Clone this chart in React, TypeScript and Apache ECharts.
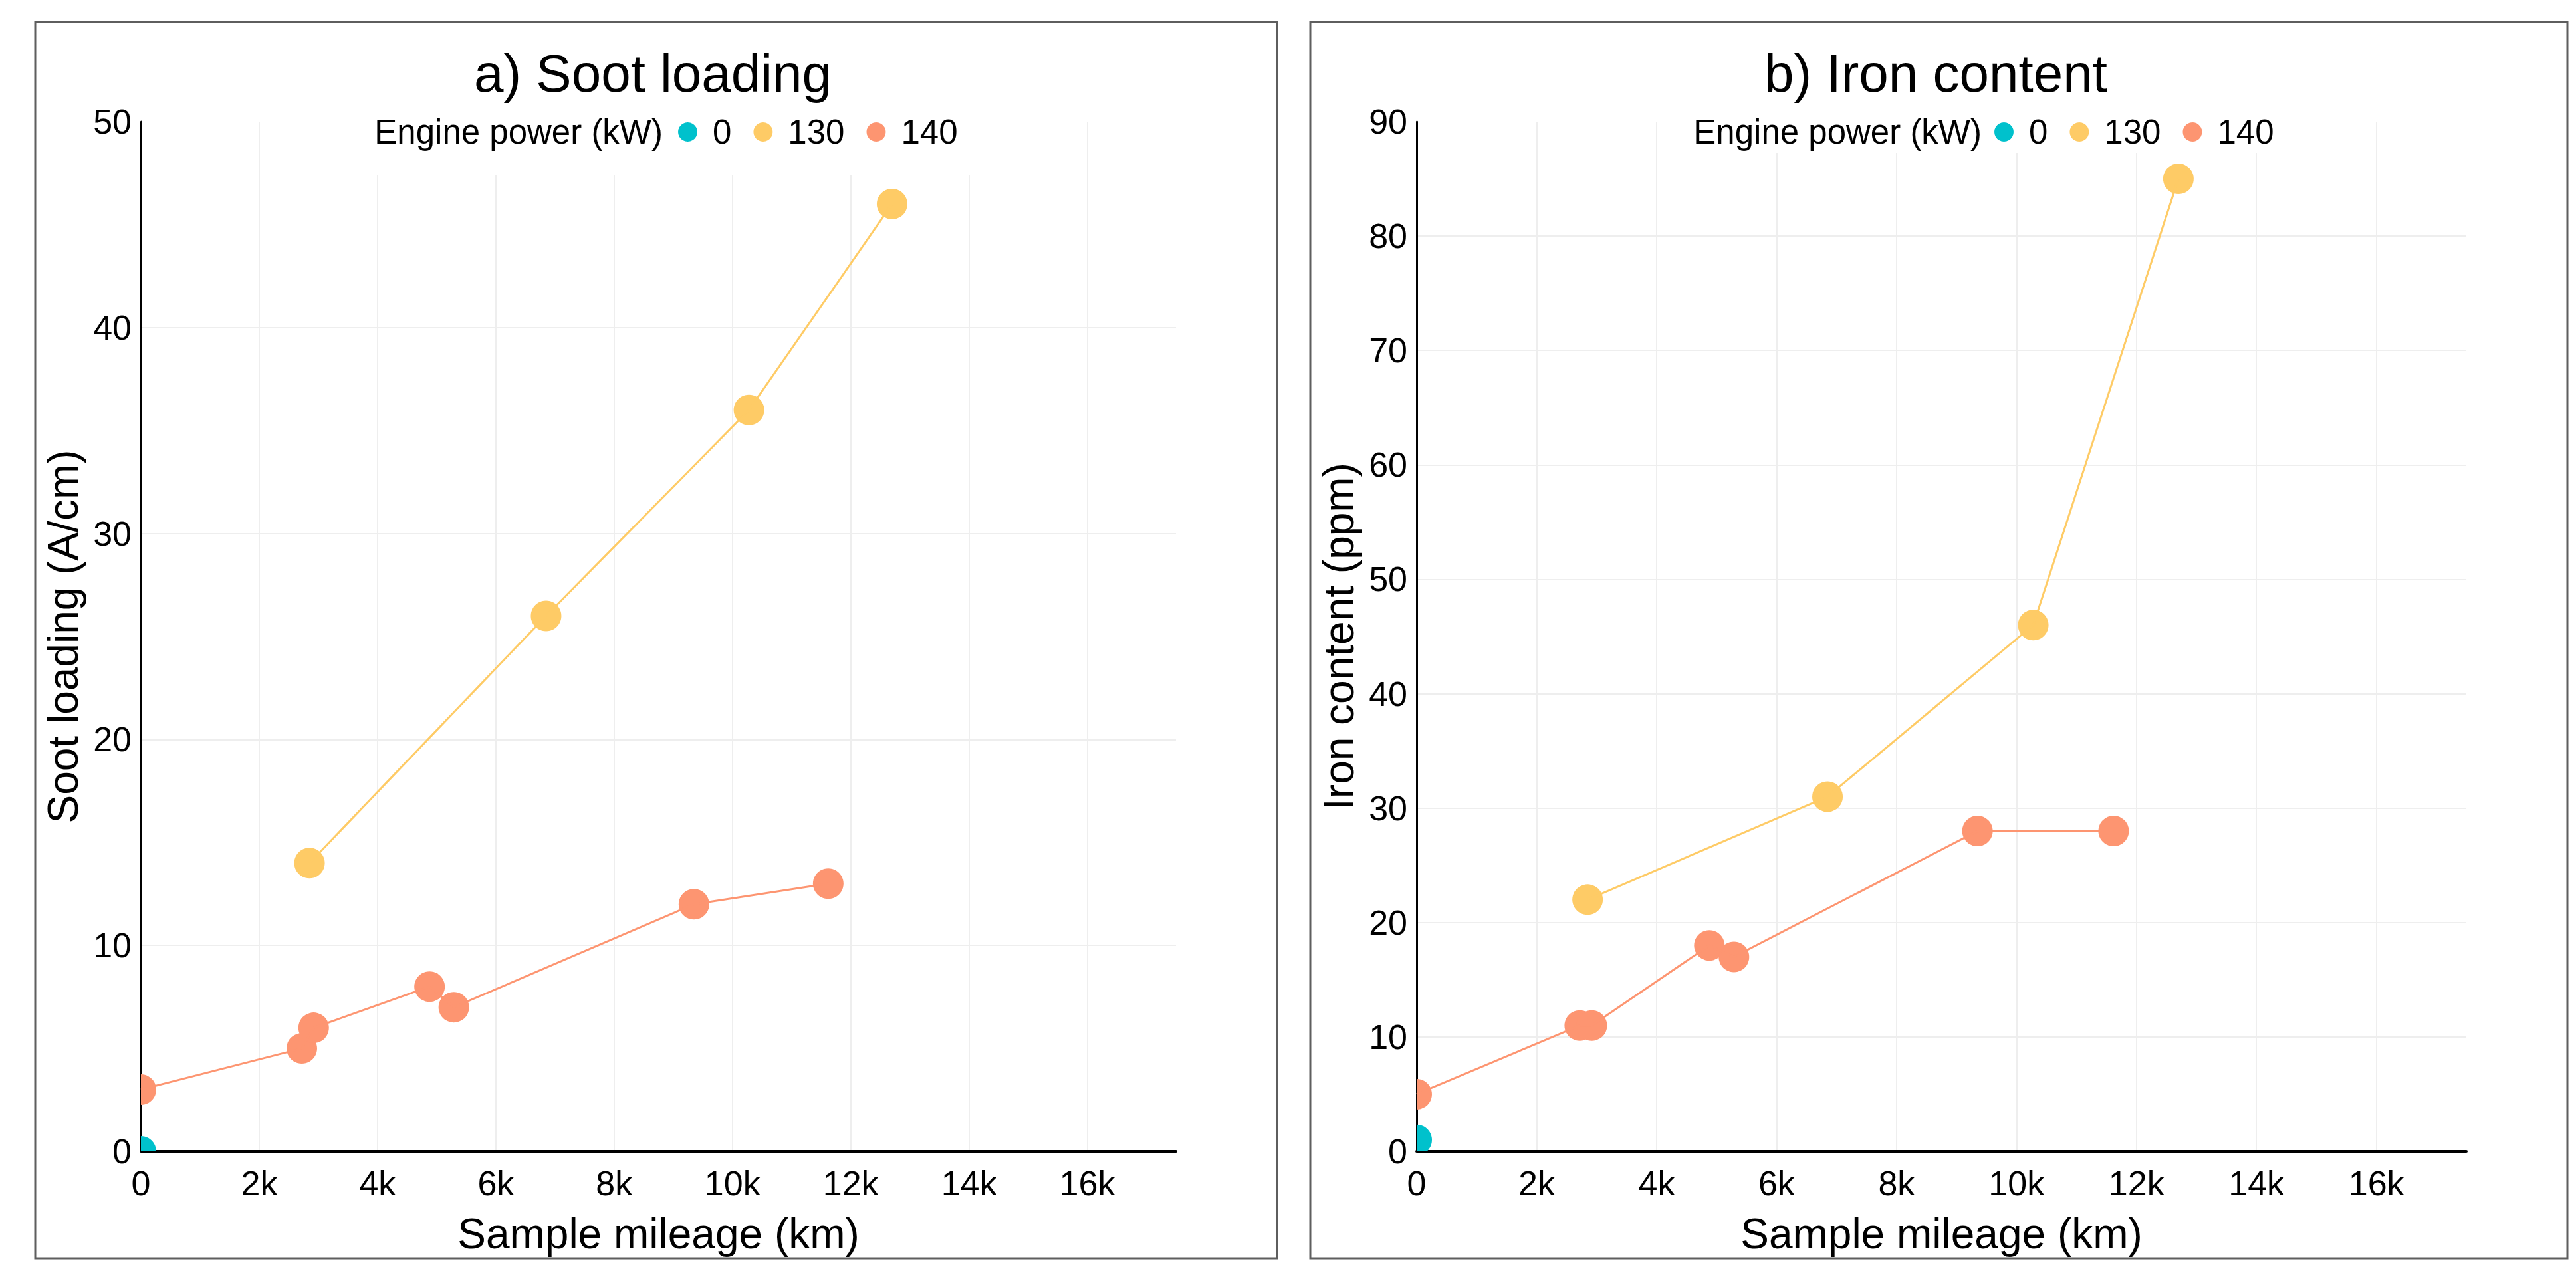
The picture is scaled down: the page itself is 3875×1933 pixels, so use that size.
import React, { useEffect, useRef } from 'react';
import * as echarts from 'echarts';

const FONT = "'Liberation Sans', Arial, Helvetica, sans-serif";

// Legend categories and colours
const powerLevels = ['0', '130', '140'];
const powerColors = ['#00C1CC', '#FECB66', '#FD9571'];

// Series values (mileage in km)
const mileage0 = [0];
const soot0 = [0];
const iron0 = [1];

const mileage130 = [2850, 6850, 10280, 12700];
const soot130 = [14, 26, 36, 46];
const iron130 = [22, 31, 46, 85];

const mileage140 = [0, 2720, 2920, 4880, 5290, 9350, 11620];
const soot140 = [3, 5, 6, 8, 7, 12, 13];
const iron140 = [5, 11, 11, 18, 17, 28, 28];

// Tick labels
const xTickLabels = ['0', '2k', '4k', '6k', '8k', '10k', '12k', '14k', '16k'];
const xTickStep = 2000;
const xMax = 17500;
const yTickStep = 10;
const sootMax = 50;
const ironMax = 90;

const panelTitles = ['a) Soot loading', 'b) Iron content'];
const yTitles = ['Soot loading (A/cm)', 'Iron content (ppm)'];
const xTitle = 'Sample mileage (km)';
const legendTitle = 'Engine power (kW)';

const mileages = [mileage0, mileage130, mileage140];
const panelValues = [
  [soot0, soot130, soot140],
  [iron0, iron130, iron140],
];
const panelMax = [sootMax, ironMax];

// Layout (pixels)
const layout = [
  {
    grid: { left: 212, top: 183, width: 1557, height: 1549 },
    frame: { x: 53, y: 33, width: 1868, height: 1860 },
    titleX: 982,
    legendTitleRight: 997,
    legendLeft: 1020,
    mask: { x: 545, y: 140, width: 925, height: 123 },
  },
  {
    grid: { left: 2131, top: 183, width: 1579, height: 1549 },
    frame: { x: 1971, y: 33, width: 1891, height: 1860 },
    titleX: 2912,
    legendTitleRight: 2981,
    legendLeft: 3000,
    mask: { x: 2515, y: 140, width: 935, height: 90 },
  },
];

function zip(xs: number[], ys: number[]) {
  return xs.map((x, i) => [x, ys[i]]);
}

function buildOption() {
  const grid = layout.map((l) => ({ ...l.grid, containLabel: false }));

  const xAxis = layout.map((_, i) => ({
    type: 'value',
    gridIndex: i,
    min: 0,
    max: xMax,
    interval: xTickStep,
    name: xTitle,
    nameLocation: 'middle',
    nameGap: 92,
    nameTextStyle: { fontSize: 64, fontFamily: FONT, color: '#000' },
    axisLine: { show: true, onZero: false, lineStyle: { color: '#000', width: 4 } },
    axisTick: { show: false },
    axisLabel: {
      fontSize: 52,
      fontFamily: FONT,
      color: '#000',
      margin: 22,
      showMaxLabel: false,
      formatter: (v: number) => {
        const idx = Math.round(v / xTickStep);
        return v % xTickStep === 0 && xTickLabels[idx] !== undefined ? xTickLabels[idx] : '';
      },
    },
    splitLine: {
      show: true,
      showMinLine: false,
      showMaxLine: false,
      lineStyle: { color: '#EEEEEE', width: 2 },
    },
  }));

  const yAxis = layout.map((_, i) => ({
    type: 'value',
    gridIndex: i,
    min: 0,
    max: panelMax[i],
    interval: yTickStep,
    name: yTitles[i],
    nameLocation: 'middle',
    nameRotate: 90,
    nameGap: 85,
    nameTextStyle: { fontSize: 64, fontFamily: FONT, color: '#000' },
    axisLine: { show: true, onZero: false, lineStyle: { color: '#000', width: 3 } },
    axisTick: { show: false },
    axisLabel: { fontSize: 52, fontFamily: FONT, color: '#000', margin: 14 },
    splitLine: {
      show: true,
      showMinLine: false,
      showMaxLine: false,
      lineStyle: { color: '#EEEEEE', width: 2 },
    },
  }));

  const series: any[] = [];
  layout.forEach((_, i) => {
    powerLevels.forEach((level, j) => {
      const data = zip(mileages[j], panelValues[i][j]);
      const color = powerColors[j];
      series.push({
        type: 'line',
        name: level,
        xAxisIndex: i,
        yAxisIndex: i,
        data,
        symbol: 'none',
        showSymbol: false,
        silent: true,
        lineStyle: { color, width: 3 },
        itemStyle: { color },
        z: 2,
      });
      series.push({
        type: 'custom',
        name: 'markers ' + level,
        xAxisIndex: i,
        yAxisIndex: i,
        data,
        clip: true,
        silent: true,
        encode: { x: 0, y: 1 },
        z: 2,
        renderItem: (params: any, api: any) => {
          const p = api.coord([api.value(0), api.value(1)]);
          return {
            type: 'circle',
            shape: { cx: p[0], cy: p[1], r: 23 },
            style: { fill: color },
          };
        },
      });
    });
  });

  const legend = layout.map((l) => ({
    left: l.legendLeft,
    top: 173,
    orient: 'horizontal',
    padding: 0,
    itemWidth: 29,
    itemHeight: 29,
    itemGap: 33,
    icon: 'circle',
    selectedMode: false,
    data: powerLevels.map((name, j) => ({ name, itemStyle: { color: powerColors[j] } })),
    textStyle: { fontSize: 51, fontFamily: FONT, color: '#000', padding: [0, 0, 0, 18] },
  }));

  const graphic: any[] = [];
  layout.forEach((l, i) => {
    graphic.push({
      type: 'rect',
      z: 1,
      silent: true,
      shape: { ...l.frame },
      style: { fill: 'none', stroke: '#5E5E5E', lineWidth: 3 },
    });
    graphic.push({
      type: 'rect',
      z: 1,
      silent: true,
      shape: { ...l.mask },
      style: { fill: '#FFFFFF' },
    });
    graphic.push({
      type: 'text',
      z: 10,
      silent: true,
      x: l.titleX,
      y: 110,
      style: {
        text: panelTitles[i],
        fontSize: 80,
        fontFamily: FONT,
        fill: '#000',
        align: 'center',
        verticalAlign: 'middle',
        textAlign: 'center',
        textVerticalAlign: 'middle',
      },
    });
    graphic.push({
      type: 'text',
      z: 10,
      silent: true,
      x: l.legendTitleRight,
      y: 198,
      style: {
        text: legendTitle,
        fontSize: 51,
        fontFamily: FONT,
        fill: '#000',
        align: 'right',
        verticalAlign: 'middle',
        textAlign: 'right',
        textVerticalAlign: 'middle',
      },
    });
  });

  return {
    animation: false,
    backgroundColor: '#FFFFFF',
    textStyle: { fontFamily: FONT },
    grid,
    xAxis,
    yAxis,
    legend,
    series,
    graphic,
  };
}

export default function App() {
  const ref = useRef<HTMLDivElement>(null);
  useEffect(() => {
    if (!ref.current) return;
    const chart = echarts.init(ref.current, null, { renderer: 'svg' });
    chart.setOption(buildOption() as any);
    return () => {
      chart.dispose();
    };
  }, []);
  return (
    <div
      ref={ref}
      style={{ position: 'fixed', left: 0, top: 0, width: 3875, height: 1933, background: '#fff' }}
    />
  );
}
